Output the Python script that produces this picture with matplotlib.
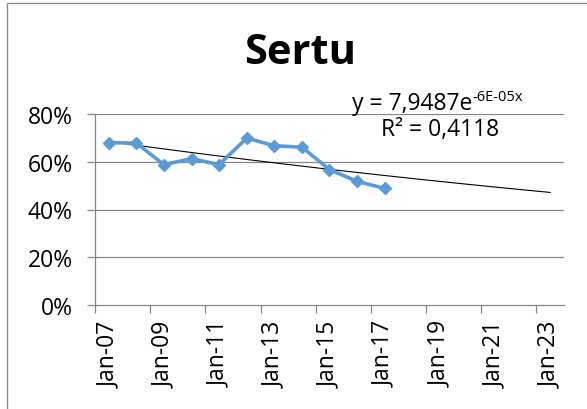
import numpy as np
import matplotlib
matplotlib.use("Agg")
import matplotlib.pyplot as plt
from matplotlib.patches import Rectangle

plt.rcParams['font.family'] = ['Open Sans', 'DejaVu Sans']

# data: one point per January, 2007..2017
years = [2007, 2008, 2009, 2010, 2011, 2012, 2013, 2014, 2015, 2016, 2017]
share = [0.680, 0.678, 0.588, 0.613, 0.588, 0.699, 0.667, 0.661, 0.567, 0.518, 0.488]

label_years = [2007, 2009, 2011, 2013, 2015, 2017, 2019, 2021, 2023]
tick_labels = ["Jan-07", "Jan-09", "Jan-11", "Jan-13", "Jan-15",
               "Jan-17", "Jan-19", "Jan-21", "Jan-23"]
y_ticks = [0.0, 0.2, 0.4, 0.6, 0.8]
y_tick_labels = ["0%", "20%", "40%", "60%", "80%"]

title = "Sertu"
eq_main = "y = 7,9487e"
eq_exp = "-6E-05x"
r2_text = "R² = 0,4118"
trend_end = 2023

W, H = 587, 410
fig = plt.figure(figsize=(W / 100, H / 100), dpi=100)

# chart frame (cut off on the right and bottom like the screenshot)
fig.patches.append(Rectangle((6.5 / W, -0.1), 1.2, (H - 3.5) / H + 0.1,
                             transform=fig.transFigure, fill=False,
                             edgecolor="#8c8c8c", linewidth=1.0))

ax = fig.add_axes([95 / W, 1 - 306 / H, (564 - 95) / W, (306 - 115) / H])

grid_c = "#868686"
ax.set_xlim(2006.5, 2023.5)
ax.set_ylim(0, 0.8)

ax.set_yticks(y_ticks)
ax.set_yticklabels(y_tick_labels)
for yv in y_ticks[1:]:
    ax.axhline(yv, color=grid_c, linewidth=0.9, zorder=1)

# ticks on slot boundaries, labels on slot centers (Excel date axis)
ax.set_xticks([y - 0.5 for y in label_years])
ax.set_xticklabels([])
ax.set_xticks(label_years, minor=True)
ax.set_xticklabels(tick_labels, minor=True, rotation=90)
ax.tick_params(axis="x", which="minor", length=0, pad=11, labelsize=16.5)
ax.tick_params(axis="x", which="major", length=6, color=grid_c, width=0.9)
ax.tick_params(axis="y", length=6, color=grid_c, width=0.9, pad=10, labelsize=16.5)

for side in ["top", "right"]:
    ax.spines[side].set_visible(False)
for side in ["left", "bottom"]:
    ax.spines[side].set_color(grid_c)
    ax.spines[side].set_linewidth(0.9)

# exponential trendline fitted to the series, forecast to Jan-23
b, a = np.polyfit(np.array(years, float), np.log(share), 1)
tx = np.linspace(years[0], trend_end, 100)
ax.plot(tx, np.exp(a + b * tx), color="black", linewidth=0.8, zorder=3)

ax.plot(years, share, color="#5B9BD5", linewidth=2.6, marker="D",
        markersize=6.5, zorder=4)

fig.text(300 / W, 1 - 54 / H, title, ha="center", va="center",
         fontsize=30, fontweight="bold")

t = fig.text(352 / W, 1 - 110 / H, eq_main, ha="left", va="baseline",
             fontsize=16.5)
ax.annotate(eq_exp, xy=(1, 0.62), xycoords=t, ha="left", va="baseline",
            fontsize=10.5, annotation_clip=False)
fig.text(440 / W, 1 - 130 / H, r2_text, ha="center", va="center",
         fontsize=16.5)

fig.savefig("out.png", dpi=100)
